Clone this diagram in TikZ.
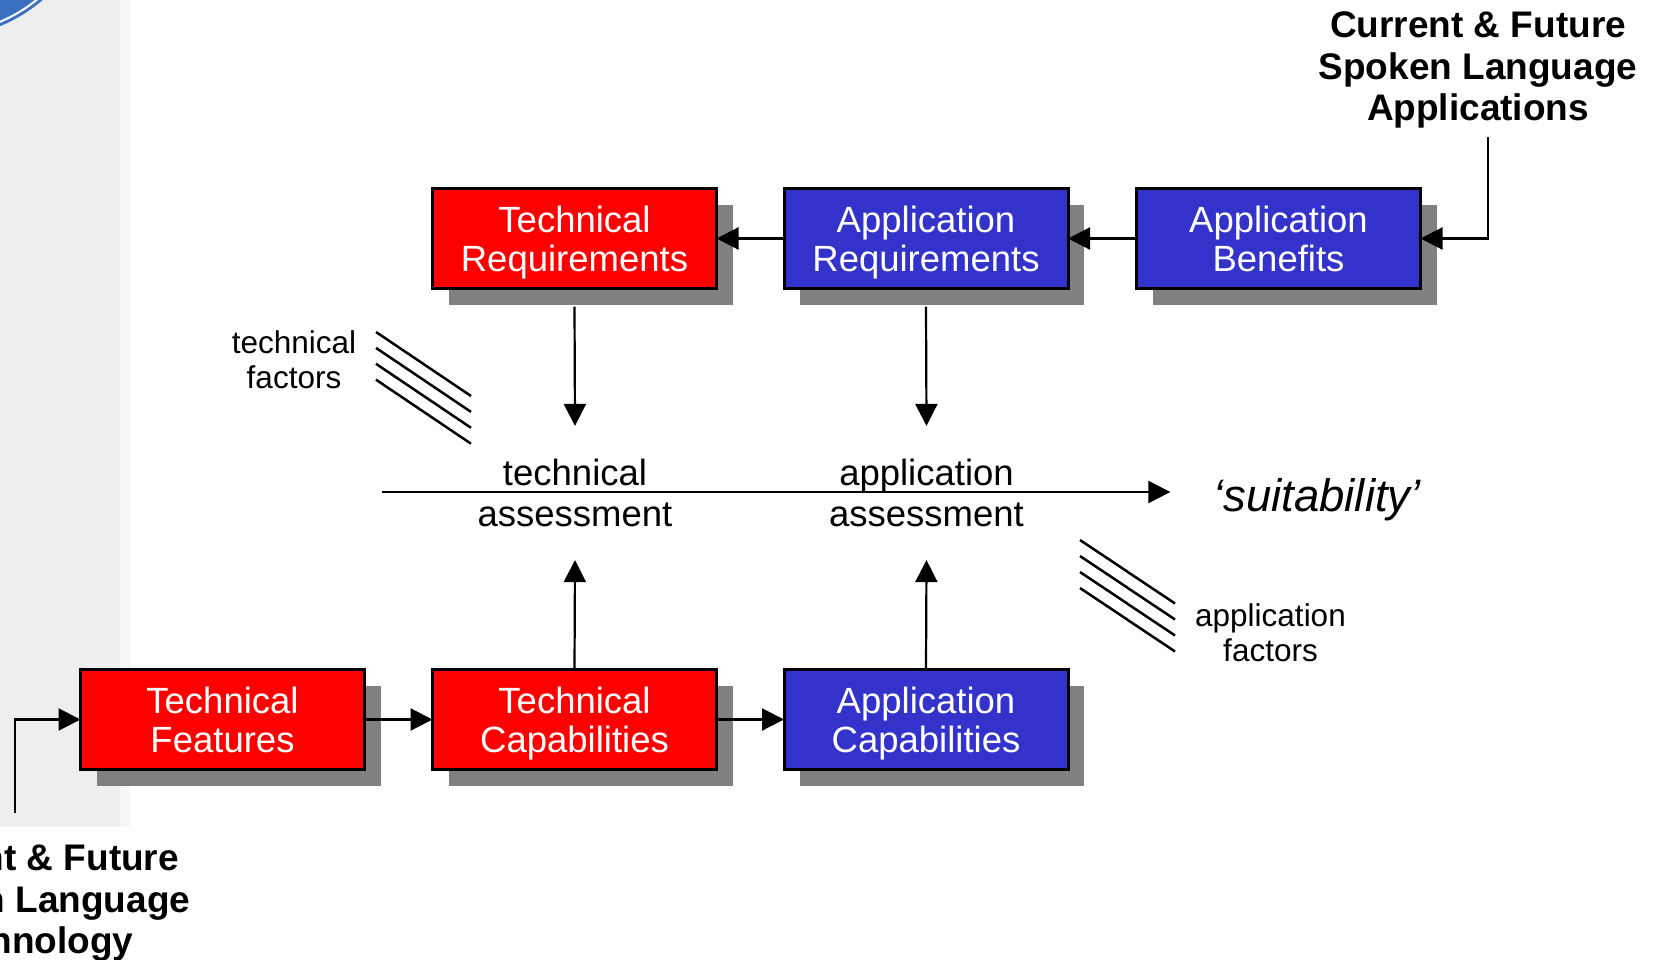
\documentclass[tikz,border=0pt]{standalone}
\usepackage{fontspec}
\setmainfont{Liberation Sans}
\usepackage{tikz}
\usetikzlibrary{arrows.meta,calc,shadows}
\definecolor{cff0000}{RGB}{255,0,0}
\definecolor{c3333cc}{RGB}{51,51,204}
\definecolor{c808080}{RGB}{128,128,128}
\definecolor{ceeeeee}{RGB}{238,238,238}
\definecolor{cf7f7f7}{RGB}{247,247,247}
\definecolor{c3a70c0}{RGB}{58,112,192}

\begin{document}
\begin{tikzpicture}[y=1pt,x=1pt,yscale=-1, inner sep=0pt, outer sep=0pt,
  box/.style={draw=black,line width=3pt,minimum width=284pt,minimum height=100pt,
    align=center,text=white,text depth=0pt,font=\fontsize{36.5}{39}\selectfont,
    drop shadow={shadow xshift=16pt,shadow yshift=-16pt,fill=c808080,opacity=1}},
  redbox/.style={box,fill=cff0000},
  bluebox/.style={box,fill=c3333cc},
  assess/.style={align=center,inner ysep=33pt,font=\fontsize{36.5}{41.3}\selectfont},
  factor/.style={align=center,font=\fontsize{31.5}{35}\selectfont},
  title/.style={align=center,font=\bfseries\fontsize{37}{41.5}\selectfont},
  arr/.style={draw=black,line width=2.2pt,-{Triangle[length=22pt,width=22pt]}},
  hatch/.style={draw=black,line width=2.5pt}]
  \useasboundingbox (0,0) rectangle (1655,959);
  \clip (0,0) rectangle (1655,959);
  \fill[ceeeeee] (0,0) rectangle (120,827);
  \fill[cf7f7f7] (120,0) rectangle (130,827);
  \fill[c3a70c0] (-60,-120) circle (158);
  \draw[white,line width=2pt] (-60,-120) ++(40:154) arc (40:75:154);

  \node[redbox] (rectTechReq) at (574.5,238.5) {Technical\\Requirements};
  \node[bluebox] (rectAppReq) at (926,238.5) {Application\\Requirements};
  \node[bluebox] (rectAppBen) at (1278.5,238.5) {Application\\Benefits};
  \node[redbox] (rectTechFeat) at (222.5,719.5) {Technical\\Features};
  \node[redbox] (rectTechCap) at (574.5,719.5) {Technical\\Capabilities};
  \node[bluebox] (rectAppCap) at (926,719.5) {Application\\Capabilities};

  \node[assess] (textTechAssess) at (575,493) {technical\\assessment};
  \node[assess] (textAppAssess) at (926.5,493) {application\\assessment};
  \node[font=\itshape\fontsize{45.5}{50}\selectfont,inner xsep=43pt] (textSuit)
    at (1317,500) {‘suitability’};
  \node[factor] (textTechFactors) at (294,360) {technical\\factors};
  \node[factor] (textAppFactors) at (1270.5,632.5) {application\\factors};
  \node[title] (textTitleApp) at (1478,70) {Current \& Future\\Spoken Language\\Applications};
  \node[title] (textTitleTech) at (31,903) {Current \& Future\\Spoken Language\\Technology};

  \coordinate (lineStart) at (382,492);
  \draw[arr] (lineStart) -- (lineStart -| textSuit.west);

  \draw[arr] (rectAppBen.west) -- (rectAppReq.east);
  \draw[arr] (rectAppReq.west) -- (rectTechReq.east);
  \draw[arr] (rectTechFeat.east) -- (rectTechCap.west);
  \draw[arr] (rectTechCap.east) -- (rectAppCap.west);

  \draw[arr] ($(rectTechReq.south)+(0,18)$) -- (textTechAssess.north);
  \draw[arr] ($(rectAppReq.south)+(0,18)$) -- (textAppAssess.north);
  \draw[arr] (rectTechCap.north) -- (textTechAssess.south);
  \draw[arr] (rectAppCap.north) -- (textAppAssess.south);

  \draw[arr] ($(textTitleApp.south)+(10,9)$) |- (rectAppBen.east);
  \draw[arr] ($(textTitleTech.north)+(-16,-32)$) |- (rectTechFeat.west);

  \foreach \i in {0,...,3}
    \draw[hatch] (376,332+15.9*\i) -- ++(95,64);
  \foreach \i in {0,...,3}
    \draw[hatch] (1080,540+16*\i) -- ++(95,63.5);

\end{tikzpicture}
\end{document}
